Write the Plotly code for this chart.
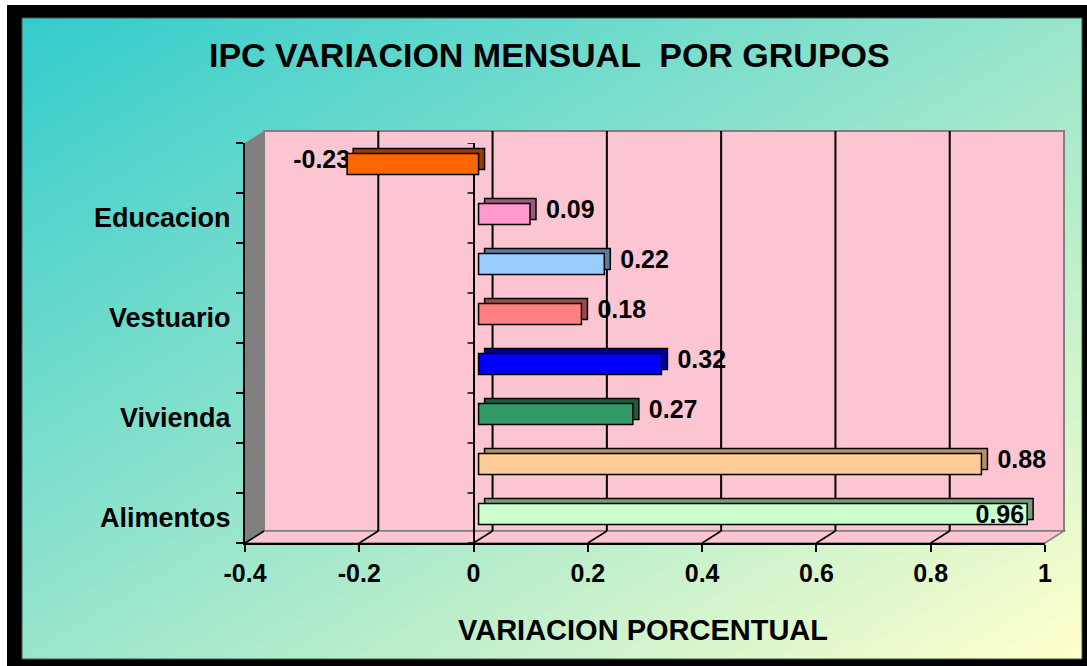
import plotly.graph_objects as go

# ---------------- data ----------------
categories = ["Alimentos", "", "Vivienda", "", "Vestuario", "", "Educacion", ""]
values = [0.96, 0.88, 0.27, 0.32, 0.18, 0.22, 0.09, -0.23]
bar_colors = ["#ccffcc", "#ffcc99", "#339966", "#0000ff", "#ff8080", "#99ccff", "#ff99cc", "#ff6600"]
bar_shades = ["#7a997a", "#b38f6b", "#1f5c3d", "#000099", "#994d4d", "#5c7a99", "#995c7a", "#993d00"]
x_ticks = [-0.4, -0.2, 0, 0.2, 0.4, 0.6, 0.8, 1.0]
x_tick_labels = ["-0.4", "-0.2", "0", "0.2", "0.4", "0.6", "0.8", "1"]
title_text = "IPC VARIACION MENSUAL \u00a0POR GRUPOS"
x_title = "VARIACION PORCENTUAL"

# ---------------- layout constants (pixels) ----------------
W, H = 1087, 666
L, R, T, B = 245, 1045, 143, 543      # front plane of plot
DX, DY = 19, 12                       # depth of 3D box
FB = (5, 4)                            # front face of bars shift (right, up)
BB = (11, 9)                           # back face of bars shift (right, up)
FONT = "Liberation Sans, Arial, sans-serif"
PINK = "#fbc6d1"


def px(x):
    return x / W


def py(y):
    return 1 - y / H


def path(points):
    return "M " + " L ".join(f"{px(x):.5f},{py(y):.5f}" for x, y in points) + " Z"


positions = list(range(len(categories)))
vmax = max(values)

shapes = []
# black frame
shapes.append(dict(type="rect", xref="paper", yref="paper", x0=px(7), x1=px(1087), y0=py(666), y1=py(5),
                   fillcolor="black", line=dict(width=0), layer="below"))

# diagonal gradient background (overlapping bands, no seams)
GX0, GX1, GY0, GY1 = 22, 1082, 18, 659
c0 = (0x33, 0xcc, 0xcc)
c1 = (0xff, 0xff, 0xcc)


def clip(poly, s):
    out = []
    n = len(poly)

    def f(p):
        u = (p[0] - GX0) / (GX1 - GX0)
        v = (p[1] - GY0) / (GY1 - GY0)
        return u + v - s

    for i in range(n):
        a, b = poly[i], poly[(i + 1) % n]
        fa, fb = f(a), f(b)
        ina, inb = fa >= 0, fb >= 0
        if ina:
            out.append(a)
        if ina != inb:
            t = fa / (fa - fb)
            out.append((a[0] + t * (b[0] - a[0]), a[1] + t * (b[1] - a[1])))
    return out


rect = [(GX0, GY0), (GX1, GY0), (GX1, GY1), (GX0, GY1)]
NB = 90
for i in range(NB):
    s = 2.0 * i / NB
    t = (i + 0.5) / NB
    col = tuple(int(round(c0[k] + (c1[k] - c0[k]) * t)) for k in range(3))
    poly = clip(rect, s) if i > 0 else rect
    if len(poly) >= 3:
        shapes.append(dict(type="path", xref="paper", yref="paper", path=path(poly),
                           fillcolor="rgb(%d,%d,%d)" % col, line=dict(width=0), layer="below"))
shapes.append(dict(type="rect", xref="paper", yref="paper", x0=px(GX0), x1=px(GX1), y0=py(GY1), y1=py(GY0),
                   line=dict(color="#3d5a52", width=1), layer="below"))

# 3D box: back wall, floor, side wall
shapes.append(dict(type="path", xref="paper", yref="paper",
                   path=path([(L + DX, T - DY), (R + DX, T - DY), (R + DX, B - DY), (L + DX, B - DY)]),
                   fillcolor=PINK, line=dict(color="#808080", width=2), layer="below"))
shapes.append(dict(type="path", xref="paper", yref="paper",
                   path=path([(L, B), (L + DX, B - DY), (R + DX, B - DY), (R, B)]),
                   fillcolor=PINK, line=dict(color="#808080", width=1.5), layer="below"))
shapes.append(dict(type="path", xref="paper", yref="paper",
                   path=path([(L, T), (L + DX, T - DY), (L + DX, B - DY), (L, B)]),
                   fillcolor="#808080", line=dict(width=0), layer="below"))
# gridlines on back wall and diagonal marks on floor
for v in x_ticks:
    if x_ticks[0] < v < x_ticks[-1]:
        shapes.append(dict(type="line", xref="x", yref="paper", xsizemode="pixel", xanchor=v, x0=DX, x1=DX,
                           y0=py(B - DY), y1=py(T - DY), line=dict(color="black", width=2), layer="below"))
    shapes.append(dict(type="line", xref="x", yref="paper", xsizemode="pixel", xanchor=v, x0=0, x1=DX,
                       y0=py(B), y1=py(B - DY), line=dict(color="black", width=1.5), layer="below"))
# tick marks on the zero line
for k in range(len(categories) + 1):
    shapes.append(dict(type="line", xref="x", yref="y", xsizemode="pixel", xanchor=0, x0=-6, x1=0,
                       y0=k - 0.5, y1=k - 0.5, line=dict(color="black", width=1.5)))

back_text = ["" if v == vmax else (("\u00a0" + f"{v:.2f}") if v > 0 else f"{v:.2f}") for v in values]
front_text = [f"{v:.2f}" if v == vmax else "" for v in values]

lab_font = dict(family=FONT, size=25, color="black", weight="bold")

fig = go.Figure()
# back copies of bars (give the 3D extrusion)
fig.add_trace(go.Bar(x=values, y=positions, orientation="h", xaxis="x2", yaxis="y2", width=0.42,
                     marker=dict(color=bar_shades, line=dict(color="black", width=1.5)),
                     text=back_text, textposition="outside", textangle=0, constraintext="none",
                     cliponaxis=False, textfont=lab_font, hoverinfo="skip", showlegend=False))
# front faces of bars
fig.add_trace(go.Bar(x=values, y=positions, orientation="h", xaxis="x3", yaxis="y3", width=0.42,
                     marker=dict(color=bar_colors, line=dict(color="black", width=1.5)),
                     text=front_text, textposition="inside", insidetextanchor="end", textangle=0,
                     constraintext="none", cliponaxis=False, insidetextfont=lab_font,
                     hoverinfo="skip", showlegend=False))

xr = [x_ticks[0], x_ticks[-1]]
yr = [-0.5, len(categories) - 0.5]


def hidden_x(shift, anchor):
    return dict(domain=[px(L + shift[0]), px(R + shift[0])], range=xr, visible=False, anchor=anchor,
                fixedrange=True, automargin=False)


def hidden_y(shift, anchor):
    return dict(domain=[py(B - shift[1]), py(T - shift[1])], range=yr, visible=False, anchor=anchor,
                fixedrange=True, automargin=False)


fig.update_layout(
    template="none",
    width=W, height=H, autosize=False,
    margin=dict(l=0, r=0, t=0, b=0, pad=0, autoexpand=False),
    paper_bgcolor="white", plot_bgcolor="rgba(0,0,0,0)",
    showlegend=False,
    xaxis=dict(domain=[px(L), px(R)], range=xr, anchor="y", showline=True, linecolor="black", linewidth=2,
               ticks="outside", ticklen=7, tickwidth=2, tickcolor="black", automargin=False,
               tickvals=x_ticks, ticktext=x_tick_labels, tickfont=dict(family=FONT, size=25, color="black",
                                                                        weight="bold"),
               showgrid=False, zeroline=True, zerolinecolor="black", zerolinewidth=2, fixedrange=True),
    yaxis=dict(domain=[py(B), py(T)], range=yr, anchor="x", showline=True, linecolor="black", linewidth=2,
               tickvals=positions, ticktext=categories, ticks="", ticklabelstandoff=7, automargin=False,
               tickfont=dict(family=FONT, size=27, color="black", weight="bold"),
               minor=dict(tickmode="linear", tick0=-0.5, dtick=1, ticks="outside", ticklen=7,
                          tickwidth=1.5, tickcolor="black", showgrid=False),
               showgrid=False, zeroline=False, fixedrange=True),
    xaxis2=hidden_x(BB, "y2"), yaxis2=hidden_y(BB, "x2"),
    xaxis3=hidden_x(FB, "y3"), yaxis3=hidden_y(FB, "x3"),
    shapes=shapes,
    annotations=[
        dict(text=title_text, xref="paper", yref="paper", x=px(549), y=py(55), xanchor="center",
             yanchor="middle", showarrow=False, font=dict(family=FONT, size=34, color="black", weight="bold")),
        dict(text=x_title, xref="paper", yref="paper", x=px(643), y=py(630), xanchor="center",
             yanchor="middle", showarrow=False, font=dict(family=FONT, size=29, color="black", weight="bold")),
    ],
)

fig.write_html("out.html", config={"displayModeBar": False, "responsive": False},
               post_script="document.body.style.margin='0';document.body.style.overflow='hidden';")
